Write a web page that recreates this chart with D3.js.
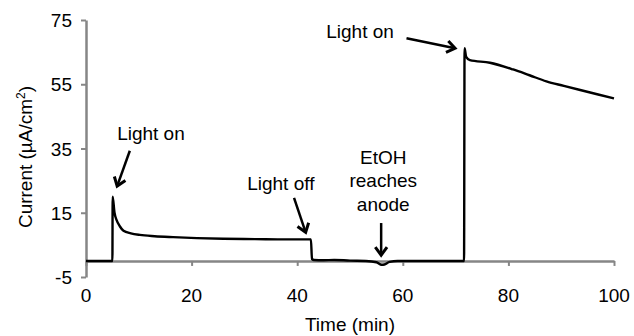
<!DOCTYPE html>
<html>
<head>
<meta charset="utf-8">
<script src="https://cdn.jsdelivr.net/npm/d3@7"></script>
<style>
  body { margin: 0; background: #fff; }
  svg text { font-family: "Liberation Sans", Arial, sans-serif; fill: #000; }
</style>
</head>
<body>
<div id="chart"></div>
<script>
// time (min) and current (uA/cm2)
const timeMin = [0, 5, 5.05, 5.4, 5.8, 6.4, 7.1, 8.5, 10.2, 13, 16.5, 21, 26, 32, 38, 42.6, 42.8, 43.2, 45, 47, 50, 53, 55, 56, 56.5, 57.5, 59, 65, 71.6, 71.7, 72, 72.7, 76.5, 80.9, 84, 87.2, 90.5, 93.6, 97, 100];
const current = [0, 0, 20, 15, 12.7, 10.8, 9.4, 8.6, 8.1, 7.7, 7.4, 7.1, 6.9, 6.8, 6.7, 6.7, 0.6, 0.3, 0.2, 0.3, 0.1, 0, -0.4, -1.2, -1.1, -0.3, 0, 0, 0, 66.2, 63.5, 62.5, 61.7, 59.6, 57.8, 55.9, 54.5, 53.2, 51.8, 50.6];

const xTicks = [0, 20, 40, 60, 80, 100];
const yTicks = [-5, 15, 35, 55, 75];

// annotations: label lines, text anchor point, arrow tail and head (data units)
const notes = [
  { lines: ["Light on"], tx: 12.3, ty: 37.6, from: [8.3, 34.3], to: [5.9, 23.3] },
  { lines: ["Light off"], tx: 36.9, ty: 22.2, from: [39.4, 19.6], to: [41.6, 8.9] },
  { lines: ["EtOH", "reaches", "anode"], tx: 56.3, ty: 30.3, from: [55.9, 11.8], to: [55.9, 1.8] },
  { lines: ["Light on"], tx: 51.9, ty: 69.4, from: [60.7, 69.3], to: [69.9, 66.2] }
];

const width = 634, height = 336;
const fs = 19;
const svg = d3.select("#chart").append("svg")
  .attr("width", width)
  .attr("height", height);

const x = d3.scaleLinear().domain([0, 100]).range([86, 614]);
const y = d3.scaleLinear().domain([-5, 75]).range([277, 20]);

const axisColor = "#868686";

// x axis sits at y = 0
const xAxis = svg.append("g")
  .attr("transform", `translate(0,${y(0)})`)
  .call(d3.axisBottom(x).tickValues(xTicks).tickSize(5).tickSizeOuter(0).tickFormat(""));
xAxis.select(".domain").attr("stroke", axisColor).attr("stroke-width", 2.5);
xAxis.selectAll(".tick line").attr("stroke", axisColor).attr("stroke-width", 2);

svg.selectAll(".xlab").data(xTicks).enter().append("text")
  .attr("x", d => x(d))
  .attr("y", 302)
  .attr("text-anchor", "middle")
  .attr("font-size", fs)
  .text(d => d);

const yAxis = svg.append("g")
  .attr("transform", `translate(${x(0)},0)`)
  .call(d3.axisLeft(y).tickValues(yTicks).tickSize(5).tickSizeOuter(0).tickFormat(""));
yAxis.select(".domain").attr("stroke", axisColor).attr("stroke-width", 2.5);
yAxis.selectAll(".tick line").attr("stroke", axisColor).attr("stroke-width", 2);

svg.selectAll(".ylab").data(yTicks).enter().append("text")
  .attr("x", 72)
  .attr("y", d => y(d) + 7)
  .attr("text-anchor", "end")
  .attr("font-size", fs)
  .text(d => d);

// axis titles
svg.append("text")
  .attr("x", (x(0) + x(100)) / 2)
  .attr("y", 331)
  .attr("text-anchor", "middle")
  .attr("font-size", fs)
  .text("Time (min)");

svg.append("text")
  .attr("transform", "rotate(-90)")
  .attr("x", -157)
  .attr("y", 32)
  .attr("text-anchor", "middle")
  .attr("font-size", fs)
  .html('Current (µA/cm<tspan dy="-7" font-size="12">2</tspan><tspan dy="7">)</tspan>');

// trace
const line = d3.line().x((d, i) => x(timeMin[i])).y(d => y(d)).curve(d3.curveMonotoneX);
svg.append("path")
  .datum(current)
  .attr("fill", "none")
  .attr("stroke", "#000")
  .attr("stroke-width", 2.4)
  .attr("stroke-linejoin", "round")
  .attr("d", line);

// annotations
notes.forEach((n) => {
  const t = svg.append("text")
    .attr("x", x(n.tx))
    .attr("y", y(n.ty))
    .attr("text-anchor", "middle")
    .attr("font-size", fs);
  n.lines.forEach((s, i) => {
    t.append("tspan")
      .attr("x", x(n.tx))
      .attr("dy", i === 0 ? 0 : 23.5)
      .text(s);
  });

  const x1 = x(n.from[0]), y1 = y(n.from[1]);
  const x2 = x(n.to[0]), y2 = y(n.to[1]);
  const ang = Math.atan2(y2 - y1, x2 - x1);
  const hl = 10, spread = Math.PI / 5;
  svg.append("line")
    .attr("x1", x1).attr("y1", y1)
    .attr("x2", x2).attr("y2", y2)
    .attr("stroke", "#000")
    .attr("stroke-width", 2.5);
  svg.append("path")
    .attr("d", `M${x2 - hl * Math.cos(ang - spread)},${y2 - hl * Math.sin(ang - spread)}
                L${x2},${y2}
                L${x2 - hl * Math.cos(ang + spread)},${y2 - hl * Math.sin(ang + spread)}`)
    .attr("fill", "none")
    .attr("stroke", "#000")
    .attr("stroke-width", 3)
    .attr("stroke-linejoin", "miter");
});
</script>
</body>
</html>
